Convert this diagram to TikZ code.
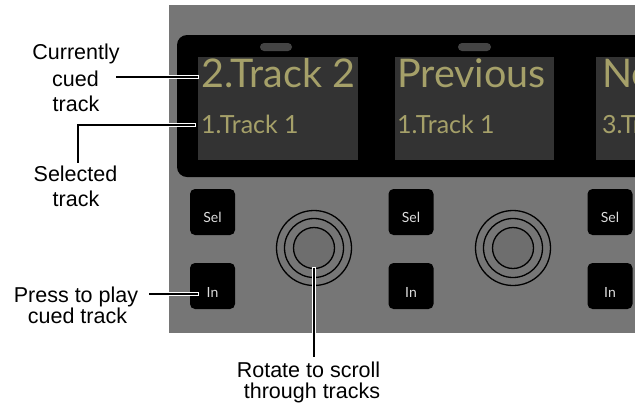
\documentclass[tikz,border=0pt]{standalone}
\usepackage{fontspec}
\setmainfont{Liberation Sans}
\newfontfamily\dispfont{Lato}
\definecolor{panelgray}{HTML}{767676}
\definecolor{screengray}{HTML}{333333}
\definecolor{pillgray}{HTML}{444444}
\definecolor{olive}{HTML}{A5A069}
\definecolor{knobin}{HTML}{6E6E6E}
\definecolor{btntxt}{HTML}{DDDDDD}
\tikzset{
  lbl/.style={anchor=base, inner sep=0pt, font=\fontsize{21.5bp}{24bp}\selectfont},
  bigtxt/.style={anchor=base west, inner sep=0pt, text=olive, font=\dispfont\fontsize{39.5bp}{40bp}\selectfont},
  smalltxt/.style={anchor=base west, inner sep=0pt, text=olive, font=\dispfont\fontsize{25bp}{26bp}\selectfont},
  btn/.style={fill=black, rounded corners=5bp, minimum width=45bp, minimum height=46bp, inner sep=0pt},
  btntext/.style={text=btntxt, inner sep=0pt, font=\dispfont\fontsize{14bp}{15bp}\selectfont},
  ring/.style={circle, draw=black, line width=1.3bp, inner sep=0pt},
  conn/.style={draw=white, double=black, double distance=2bp, line width=0.7bp, line cap=rect}
}
\begin{document}
\begin{tikzpicture}[x=1bp,y=-1bp]
\useasboundingbox (0,0) rectangle (635,412);
\fill[white] (0,0) rectangle (635,412);
\begin{scope}
  \clip (169,5) rectangle (635,333);
  \fill[panelgray] (169,5) rectangle (635,333);
  \fill[black, rounded corners=10bp] (177,35) rectangle (680,177);
  \fill[screengray] (198,57) rectangle (358,160);
  \fill[screengray] (395,57) rectangle (554,160);
  \fill[screengray] (596,57) rectangle (680,160);
  \fill[pillgray, rounded corners=4bp] (260,43) rectangle (292,51);
  \fill[pillgray, rounded corners=4bp] (458,43) rectangle (491,51);
  \node[bigtxt] (s1big) at (201,87) {2.Track 2};
  \node[bigtxt] (s2big) at (397,87) {Previous};
  \node[bigtxt] (s3big) at (602,87) {Next};
  \node[smalltxt] (s1sm) at (201,133) {1.Track 1};
  \node[smalltxt] (s2sm) at (397,133) {1.Track 1};
  \node[smalltxt] (s3sm) at (602,133) {3.Track 3};
  % buttons
  \node[btn] (sel1) at (212.5,212) {};
  \node[btn] (sel2) at (411,212) {};
  \node[btn] (sel3) at (610,212) {};
  \node[btn] (in1) at (212.5,286) {};
  \node[btn] (in2) at (411,286) {};
  \node[btn] (in3) at (610,286) {};
  \foreach \b in {sel1,sel2,sel3} \node[btntext] at ([yshift=-5bp]\b.center) {Sel};
  \foreach \b in {in1,in2,in3} \node[btntext] at ([yshift=-6bp]\b.center) {In};
  % knobs
  \foreach \k/\x in {k1/314,k2/513} {
    \node[ring, fill=panelgray, minimum size=75bp] (\k o) at (\x,248) {};
    \node[ring, fill=panelgray, minimum size=59bp] (\k m) at (\x,248) {};
    \node[ring, fill=knobin, minimum size=41bp] (\k i) at (\x,248) {};
  }
\end{scope}
% labels
\node[lbl] (lab1a) at (76,59.3) {Currently};
\node[lbl] (lab1b) at (75.5,86.7) {cued};
\node[lbl] (lab1c) at (76,111.7) {track};
\node[lbl] (lab2a) at (75.5,181.7) {Selected};
\node[lbl] (lab2b) at (76,206.7) {track};
\node[lbl] (lab3a) at (76,302) {Press to play};
\node[lbl] (lab3b) at (77.5,323) {cued track};
\node[lbl] (lab4a) at (308.5,377) {Rotate to scroll};
\node[lbl] (lab4b) at (312,398) {through tracks};
% connector targets
\coordinate (t1) at (197,77);
\coordinate (t2) at (194,125);
\coordinate (t3) at (197,294);
\draw[conn] ([xshift=18bp]lab1b.east |- t1) -- (t1);
\draw[conn] ([xshift=2.5bp,yshift=4bp]lab2a.north) |- (t2);
\draw[conn] ([xshift=12bp]lab3a.east |- t3) -- (t3);
\draw[conn] (k1i.south) -- ([yshift=5bp]k1i.south |- lab4a.north);
\end{tikzpicture}
\end{document}
